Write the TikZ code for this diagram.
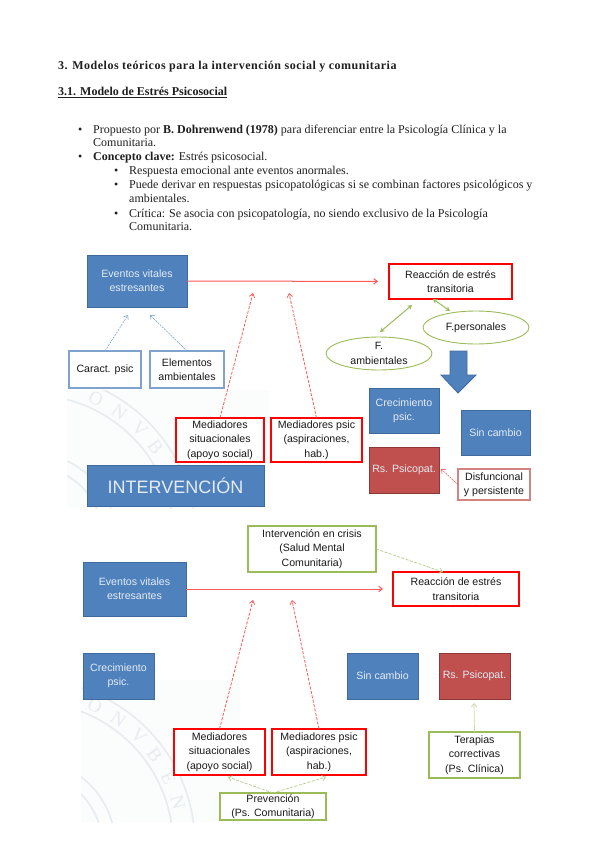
\documentclass[tikz,border=0pt]{standalone}
\usepackage{fontspec}
\setmainfont{Liberation Serif}
\newfontfamily\dsans{Liberation Sans}
\newfontfamily\spacedbf[LetterSpace=4.2]{Liberation Serif Bold}
\usetikzlibrary{arrows.meta,shapes.geometric,calc}
\definecolor{bfill}{HTML}{4F81BD}
\definecolor{bline}{HTML}{3F6A9E}
\definecolor{rfill}{HTML}{C0504D}
\definecolor{rline}{HTML}{8C3836}
\definecolor{gline}{HTML}{9BBB59}
\definecolor{palebl}{HTML}{7FA3CF}
\definecolor{redar}{HTML}{FF5A5A}
\definecolor{seal}{HTML}{E6ECEF}
\definecolor{sealbg}{HTML}{FBFCFC}
\definecolor{wtext}{HTML}{E4ECF6}
\tikzset{
  body/.style={anchor=base west,inner sep=0pt,font=\fontsize{12}{14}\selectfont,text=black!88},
  bbase/.style={inner sep=0pt,outer sep=0pt,align=center,font=\dsans\fontsize{10.6}{14.3}\selectfont,text=black!90},
  bluebox/.style={bbase,draw=bline,fill=bfill,line width=1pt,text=wtext},
  redbox/.style={bbase,draw=rline,fill=rfill,line width=1pt,text=wtext},
  redframe/.style={bbase,draw=red,fill=white,line width=1.3pt},
  paleframe/.style={bbase,draw=palebl,fill=white,line width=1.1pt},
  greenframe/.style={bbase,draw=gline,fill=white,line width=1.2pt},
  pinkframe/.style={bbase,draw=rfill!70,fill=white,line width=1.1pt},
  greenell/.style={bbase,draw=gline,fill=white,ellipse,line width=0.9pt},
  barb/.style={-{Straight Barb[length=3.5pt,width=5.5pt]}},
  redln/.style={barb,draw=redar,line width=1pt},
  reddash/.style={barb,draw=redar,line width=0.8pt,dash pattern=on 3pt off 1.5pt},
  bluedash/.style={barb,draw=palebl,line width=0.6pt,dash pattern=on 2pt off 1pt},
  greendash/.style={barb,draw=gline!75,line width=0.7pt,dash pattern=on 3pt off 1.5pt},
  greendbl/.style={{Stealth[length=4.5pt,width=5pt]}-{Stealth[length=4.5pt,width=5pt]},draw=gline,line width=1pt},
  sealring/.style={draw=seal,line width=1.6pt},
  sealch/.style={text=seal,inner sep=0pt,font=\fontsize{19}{19}\selectfont},
}
\newcommand\bx[7]{\node[#2,minimum width={(#5-#3)*1pt},minimum height={(#6-#4)*1pt}] (#1) at ({(#3+#5)/2},{(#4+#6)/2}) {#7};}
\newcommand\sealmark[4]{%
  \coordinate (#1c) at (#2,#3);
  \draw[sealring] (#1c) circle[radius=165pt];
  \draw[sealring] (#1c) circle[radius=143pt];
  \draw[sealring] (#1c) circle[radius=85pt];
  \draw[sealring] (#1c) circle[radius=72pt];
  \foreach \a/\l/\k in {#4}{
    \node[sealch,rotate=\a-90] (#1l\k) at ($(#1c)+(\a:154pt)$) {\l};
  }%
}
\begin{document}
\begin{tikzpicture}[x=1pt,y=-1pt]
\useasboundingbox[fill=white] (0,0) rectangle (599,848);

% page text
\node[body,font=\spacedbf\fontsize{12}{14}\selectfont] (h1) at (58,69.5) {3. Modelos teóricos para la intervención social y comunitaria};
\node[body,font=\bfseries\fontsize{12}{14}\selectfont] (h2) at (58,96) {\underline{3.1. Modelo de Estrés Psicosocial}};
\node[body] (b1) at (78,133) {•};
\node[body] (t1) at (93,133) {Propuesto por \textbf{B. Dohrenwend (1978)} para diferenciar entre la Psicología Clínica y la};
\node[body] (t2) at (93,146.7) {Comunitaria.};
\node[body] (b2) at (78,160) {•};
\node[body] (t3) at (93,160) {\textbf{Concepto clave:} Estrés psicosocial.};
\node[body] (b3) at (114,174) {•};
\node[body] (t4) at (129,174) {Respuesta emocional ante eventos anormales.};
\node[body] (b4) at (114,188) {•};
\node[body] (t5) at (129,188) {Puede derivar en respuestas psicopatológicas si se combinan factores psicológicos y};
\node[body] (t6) at (129,202) {ambientales.};
\node[body] (b5) at (114,217) {•};
\node[body] (t7) at (129,217) {Crítica: Se asocia con psicopatología, no siendo exclusivo de la Psicología};
\node[body] (t8) at (129,230) {Comunitaria.};

% faint seals behind the diagrams
\begin{scope}
  \clip (67,390) rectangle (270,508);
  \fill[sealbg] (67,390) rectangle (270,508);
  \sealmark{wa}{31}{538}{65/O/2,55/N/3,45/V/4,36/B/5}
\end{scope}
\begin{scope}
  \clip (81,680) rectangle (240,822);
  \fill[sealbg] (81,680) rectangle (240,822);
  \sealmark{wb}{30}{845}{65/O/2,55/N/3,45/V/4,36/B/5,26/E/6,16/N/7}
\end{scope}

% upper diagram
\bx{ev1}{bluebox}{87}{255}{187}{307}{Eventos vitales\\estresantes}
\bx{ca}{paleframe}{69}{351}{141}{388}{Caract. psic}
\bx{el}{paleframe}{150}{351}{224}{388}{Elementos\\ambientales}
\bx{ms1}{redframe}{176}{418}{264}{462}{Mediadores\\situacionales\\(apoyo social)}
\bx{mp1}{redframe}{271}{418}{362}{462}{Mediadores psic\\(aspiraciones,\\hab.)}
\bx{in}{bluebox,font=\dsans\fontsize{18}{20}\selectfont}{87}{465}{264}{506}{INTERVENCIÓN}
\bx{re1}{redframe}{389}{264}{512}{299}{Reacción de estrés\\transitoria}
\bx{fp}{greenell}{423}{311}{529}{344}{F.personales}
\bx{fa}{greenell}{326}{337}{432}{370}{F.\\ambientales}
\bx{cr1}{bluebox}{369}{388}{439}{433}{Crecimiento\\psic.}
\bx{si1}{bluebox}{461}{410}{530}{455}{Sin cambio}
\bx{rs1}{redbox}{369}{447}{439}{493}{Rs. Psicopat.}
\bx{di}{pinkframe}{458}{469}{530}{500}{Disfuncional\\y persistente}

\coordinate (e1a) at (128,315);
\coordinate (e1b) at (150,315);
\coordinate (m1a) at (253,293);
\coordinate (m1b) at (289,293);
\coordinate (ga1) at (380,332);
\coordinate (ga2) at (412,305);
\coordinate (gb1) at (433,299);
\coordinate (gb2) at (450,311);
\coordinate (ra) at (441,469);

\draw[redln,shorten >=11pt] (ev1) -- (re1);
\draw[bluedash] (ca.north) -- (e1a);
\draw[bluedash] (el.north) -- (e1b);
\draw[reddash] (ms1.north) -- (m1a);
\draw[reddash] (mp1.north) -- (m1b);
\draw[greendbl] (ga1) -- (ga2);
\draw[greendbl] (gb1) -- (gb2);
\draw[barb,draw=redar,line width=0.6pt,dash pattern=on 2pt off 1pt] (di.west) -- (ra);
\draw[draw=bline,fill=bfill,line width=0.8pt]
  (450,351) -- (467,351) -- (467,375) -- (476,375) -- (458,393) -- (441,375) -- (450,375) -- cycle;

% lower diagram
\bx{ev2}{bluebox}{83}{562}{186}{616}{Eventos vitales\\estresantes}
\bx{cr2}{bluebox}{83}{653}{154}{699}{Crecimiento\\psic.}
\bx{ms2}{redframe}{174}{729}{265}{775}{Mediadores\\situacionales\\(apoyo social)}
\bx{mp2}{redframe}{272}{729}{366}{775}{Mediadores psic\\(aspiraciones,\\hab.)}
\bx{pr}{greenframe}{220}{793}{326}{820}{Prevención\\(Ps. Comunitaria)}
\bx{ic}{greenframe}{248}{526}{376}{572}{Intervención en crisis\\(Salud Mental\\Comunitaria)}
\bx{re2}{redframe}{393}{572}{519}{606}{Reacción de estrés\\transitoria}
\bx{si2}{bluebox}{347}{653}{418}{699}{Sin cambio}
\bx{rs2}{redbox}{439}{653}{510}{699}{Rs. Psicopat.}
\bx{te}{greenframe}{429}{732}{520}{778}{Terapias\\correctivas\\(Ps. Clínica)}

\coordinate (m2a) at (253,600);
\coordinate (m2b) at (292,600);
\coordinate (p2a) at (228,777);
\coordinate (p2b) at (326,777);
\coordinate (ic2) at (443,572);
\coordinate (te2) at (474,703);

\draw[redln,shorten >=10pt] (ev2) -- (re2);
\draw[reddash] (ms2.north) -- (m2a);
\draw[reddash] (mp2.north) -- (m2b);
\draw[greendash] (pr.north) -- (p2a);
\draw[greendash] (pr.north) -- (p2b);
\draw[greendash] (ic.east) -- (ic2);
\draw[barb,draw=gline!55,line width=0.7pt] (te.north) -- (te2);
\end{tikzpicture}
\end{document}
